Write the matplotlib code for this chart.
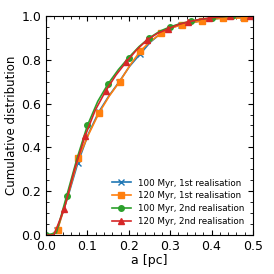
import numpy as np
import matplotlib
matplotlib.use("Agg")
import matplotlib.pyplot as plt
from matplotlib.ticker import AutoMinorLocator

# cumulative distributions of separation a [pc]
x_100_1 = [0, 0.013, 0.027, 0.052, 0.077, 0.102, 0.127, 0.152, 0.177, 0.202, 0.227,
           0.252, 0.277, 0.302, 0.327, 0.352, 0.377, 0.402, 0.427, 0.452, 0.477, 0.5]
y_100_1 = [0, 0.0, 0.025, 0.17, 0.33, 0.46, 0.56, 0.635, 0.70, 0.77, 0.825,
           0.88, 0.92, 0.945, 0.96, 0.97, 0.978, 0.986, 0.99, 0.992, 0.995, 1.0]

x_120_1 = [0, 0.013, 0.028, 0.053, 0.078, 0.103, 0.128, 0.153, 0.178, 0.203, 0.228,
           0.253, 0.278, 0.303, 0.328, 0.353, 0.378, 0.403, 0.428, 0.453, 0.478, 0.5]
y_120_1 = [0, 0.0, 0.025, 0.18, 0.35, 0.46, 0.557, 0.635, 0.70, 0.775, 0.84,
           0.885, 0.92, 0.945, 0.96, 0.97, 0.977, 0.985, 0.99, 0.99, 0.99, 1.0]

x_100_2 = [0, 0.025, 0.05, 0.075, 0.1, 0.125, 0.15, 0.175, 0.2, 0.225, 0.25,
           0.275, 0.3, 0.325, 0.35, 0.375, 0.4, 0.425, 0.45, 0.475, 0.5]
y_100_2 = [0, 0.01, 0.18, 0.35, 0.50, 0.61, 0.69, 0.755, 0.81, 0.86, 0.90,
           0.93, 0.95, 0.965, 0.975, 0.985, 0.99, 0.995, 1.0, 1.0, 1.0]

x_120_2 = [0, 0.019, 0.044, 0.069, 0.094, 0.119, 0.144, 0.169, 0.194, 0.219, 0.244,
           0.269, 0.294, 0.319, 0.344, 0.369, 0.394, 0.419, 0.444, 0.469, 0.494, 0.5]
y_120_2 = [0, 0.0, 0.12, 0.30, 0.45, 0.57, 0.657, 0.73, 0.79, 0.845, 0.89,
           0.92, 0.94, 0.96, 0.973, 0.983, 0.99, 0.995, 1.0, 1.0, 1.0, 1.0]

fig = plt.figure(figsize=(2.74, 2.74), dpi=100)
ax = fig.add_axes([0.168, 0.142, 0.755, 0.80])

ax.plot(x_100_1, y_100_1, color="tab:blue", marker="x", ms=4, lw=1.2,
        markevery=slice(2, None, 2), label="100 Myr, 1st realisation")
ax.plot(x_120_1, y_120_1, color="tab:orange", marker="s", ms=4, lw=1.2,
        markevery=slice(2, None, 2), label="120 Myr, 1st realisation")
ax.plot(x_100_2, y_100_2, color="tab:green", marker="o", ms=4, lw=1.2,
        markevery=slice(0, None, 2), label="100 Myr, 2nd realisation")
ax.plot(x_120_2, y_120_2, color="tab:red", marker="^", ms=4, lw=1.2,
        markevery=slice(2, 21, 2), label="120 Myr, 2nd realisation")

ax.set_xlim(0, 0.5)
ax.set_ylim(0, 1)
ax.set_xticks(np.arange(0, 0.51, 0.1))
ax.set_yticks(np.arange(0, 1.01, 0.2))
ax.xaxis.set_minor_locator(AutoMinorLocator())
ax.yaxis.set_minor_locator(AutoMinorLocator())
ax.tick_params(which="both", direction="in", top=True, right=True, labelsize=9)
ax.tick_params(which="major", length=3.5)
ax.tick_params(which="minor", length=2)
ax.set_xlabel("a [pc]", fontsize=9, labelpad=1)
ax.set_ylabel("Cumulative distribution", fontsize=8.5, labelpad=2)
ax.legend(loc="lower right", fontsize=6.3, frameon=False, handlelength=2.2,
          labelspacing=0.45, borderaxespad=0.6)

fig.savefig("out.png", dpi=100)
